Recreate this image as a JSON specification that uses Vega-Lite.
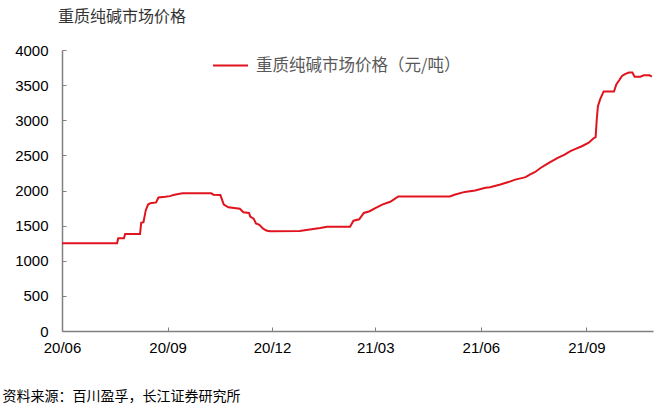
{
  "$schema": "https://vega.github.io/schema/vega-lite/v6.json",
  "width": 591,
  "height": 281,
  "autosize": {"type": "none"},
  "padding": {"left": 62, "top": 50, "right": 7, "bottom": 76},
  "background": "white",
  "title": {
    "text": "重质纯碱市场价格",
    "anchor": "start",
    "frame": "group",
    "dx": -4,
    "offset": 18,
    "font": "Noto Sans CJK SC",
    "fontSize": 16,
    "fontWeight": "normal",
    "color": "#333333"
  },
  "data": {
    "values": [
      {"date": "2020-06-01", "price": 1250},
      {"date": "2020-07-19", "price": 1250},
      {"date": "2020-07-20", "price": 1320},
      {"date": "2020-07-25", "price": 1320},
      {"date": "2020-07-26", "price": 1380},
      {"date": "2020-08-08", "price": 1380},
      {"date": "2020-08-09", "price": 1540},
      {"date": "2020-08-11", "price": 1550},
      {"date": "2020-08-13", "price": 1720},
      {"date": "2020-08-15", "price": 1800},
      {"date": "2020-08-17", "price": 1820},
      {"date": "2020-08-22", "price": 1830},
      {"date": "2020-08-24", "price": 1900},
      {"date": "2020-08-30", "price": 1910},
      {"date": "2020-09-03", "price": 1920},
      {"date": "2020-09-07", "price": 1940},
      {"date": "2020-09-14", "price": 1960},
      {"date": "2020-10-09", "price": 1960},
      {"date": "2020-10-11", "price": 1940},
      {"date": "2020-10-17", "price": 1935},
      {"date": "2020-10-20", "price": 1800},
      {"date": "2020-10-24", "price": 1760},
      {"date": "2020-11-03", "price": 1740},
      {"date": "2020-11-06", "price": 1690},
      {"date": "2020-11-11", "price": 1680},
      {"date": "2020-11-12", "price": 1630},
      {"date": "2020-11-15", "price": 1600},
      {"date": "2020-11-17", "price": 1530},
      {"date": "2020-11-20", "price": 1510},
      {"date": "2020-11-23", "price": 1460},
      {"date": "2020-11-26", "price": 1430},
      {"date": "2020-11-29", "price": 1420},
      {"date": "2020-12-25", "price": 1425},
      {"date": "2021-01-03", "price": 1445},
      {"date": "2021-01-12", "price": 1465},
      {"date": "2021-01-18", "price": 1485},
      {"date": "2021-02-07", "price": 1485},
      {"date": "2021-02-10", "price": 1570},
      {"date": "2021-02-15", "price": 1590},
      {"date": "2021-02-19", "price": 1680},
      {"date": "2021-02-24", "price": 1705},
      {"date": "2021-03-01", "price": 1750},
      {"date": "2021-03-07", "price": 1800},
      {"date": "2021-03-14", "price": 1840},
      {"date": "2021-03-16", "price": 1860},
      {"date": "2021-03-21", "price": 1915},
      {"date": "2021-05-05", "price": 1915},
      {"date": "2021-05-09", "price": 1940},
      {"date": "2021-05-18", "price": 1980},
      {"date": "2021-05-27", "price": 2000},
      {"date": "2021-06-05", "price": 2040},
      {"date": "2021-06-09", "price": 2045},
      {"date": "2021-06-18", "price": 2085},
      {"date": "2021-06-25", "price": 2120},
      {"date": "2021-07-01", "price": 2155},
      {"date": "2021-07-10", "price": 2190},
      {"date": "2021-07-14", "price": 2230},
      {"date": "2021-07-18", "price": 2260},
      {"date": "2021-07-23", "price": 2320},
      {"date": "2021-07-27", "price": 2360},
      {"date": "2021-07-31", "price": 2400},
      {"date": "2021-08-07", "price": 2465},
      {"date": "2021-08-13", "price": 2510},
      {"date": "2021-08-18", "price": 2560},
      {"date": "2021-08-22", "price": 2590},
      {"date": "2021-08-28", "price": 2630},
      {"date": "2021-09-03", "price": 2680},
      {"date": "2021-09-07", "price": 2740},
      {"date": "2021-09-09", "price": 2760},
      {"date": "2021-09-10", "price": 3010},
      {"date": "2021-09-11", "price": 3200},
      {"date": "2021-09-13", "price": 3300},
      {"date": "2021-09-16", "price": 3410},
      {"date": "2021-09-25", "price": 3410},
      {"date": "2021-09-27", "price": 3510},
      {"date": "2021-09-30", "price": 3580},
      {"date": "2021-10-02", "price": 3630},
      {"date": "2021-10-05", "price": 3660},
      {"date": "2021-10-08", "price": 3680},
      {"date": "2021-10-11", "price": 3680},
      {"date": "2021-10-13", "price": 3620},
      {"date": "2021-10-18", "price": 3620},
      {"date": "2021-10-21", "price": 3640},
      {"date": "2021-10-26", "price": 3640},
      {"date": "2021-10-28", "price": 3620}
    ]
  },
  "mark": {"type": "line", "strokeWidth": 2, "interpolate": "linear"},
  "encoding": {
    "x": {
      "field": "date",
      "type": "temporal",
      "scale": {
        "type": "utc",
        "domain": [
          {"year": 2020, "month": 6, "date": 1, "utc": true},
          {"year": 2021, "month": 10, "date": 29, "utc": true}
        ]
      },
      "axis": {
        "values": [
          {"year": 2020, "month": 6, "date": 1, "utc": true},
          {"year": 2020, "month": 9, "date": 1, "utc": true},
          {"year": 2020, "month": 12, "date": 1, "utc": true},
          {"year": 2021, "month": 3, "date": 1, "utc": true},
          {"year": 2021, "month": 6, "date": 1, "utc": true},
          {"year": 2021, "month": 9, "date": 1, "utc": true}
        ],
        "format": "%y/%m",
        "grid": false,
        "labelFont": "Liberation Sans",
        "labelFontSize": 15,
        "labelColor": "#000000",
        "labelPadding": 13,
        "labelFlush": false,
        "labelOverlap": false,
        "domainColor": "#808080",
        "domainWidth": 1.5,
        "tickColor": "#808080",
        "tickSize": -4,
        "title": "资料来源：百川盈孚，长江证券研究所",
        "titleFont": "Noto Sans CJK SC",
        "titleFontSize": 14,
        "titleFontWeight": "normal",
        "titleColor": "#000000",
        "titleAlign": "left",
        "titleBaseline": "middle",
        "titleX": -60,
        "titleY": 65
      }
    },
    "y": {
      "field": "price",
      "type": "quantitative",
      "scale": {"domain": [0, 4000], "nice": false},
      "axis": {
        "values": [0, 500, 1000, 1500, 2000, 2500, 3000, 3500, 4000],
        "format": "d",
        "grid": false,
        "title": null,
        "labelFont": "Liberation Sans",
        "labelFontSize": 15,
        "labelColor": "#000000",
        "labelPadding": 18,
        "domainColor": "#808080",
        "domainWidth": 1.5,
        "tickColor": "#808080",
        "tickSize": -4
      }
    },
    "color": {
      "datum": "重质纯碱市场价格（元/吨）",
      "scale": {"range": ["#E0141E"]},
      "legend": {
        "title": null,
        "orient": "none",
        "legendX": 150,
        "legendY": -3,
        "symbolType": "stroke",
        "symbolSize": 1225,
        "symbolStrokeWidth": 2,
        "labelFont": "Noto Sans CJK SC",
        "labelFontSize": 16.5,
        "labelColor": "#595959",
        "labelOffset": 7,
        "labelLimit": 0
      }
    }
  },
  "config": {"view": {"stroke": null}}
}
